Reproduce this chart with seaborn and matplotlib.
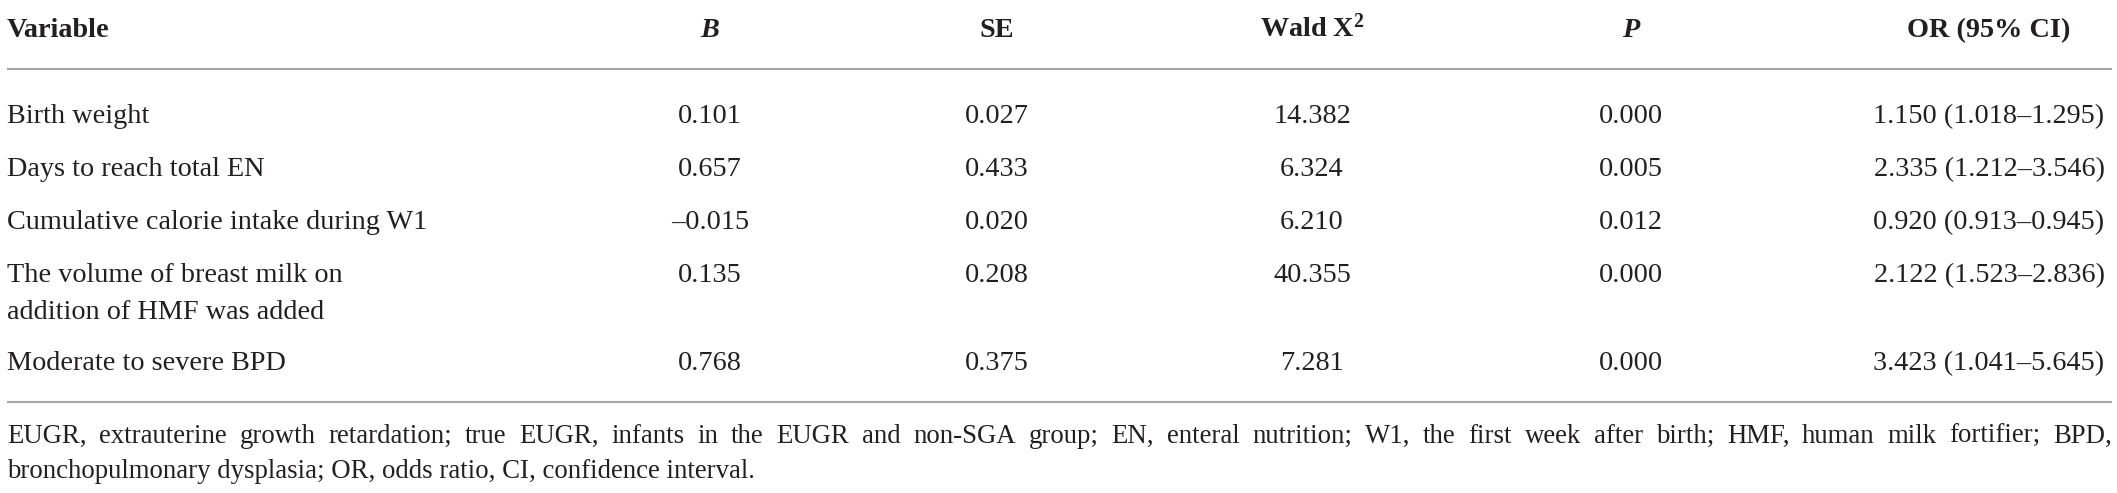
import matplotlib
matplotlib.use("Agg")
import matplotlib.pyplot as plt
import seaborn as sns

# Table content
headers = ["Variable", "B", "SE", "Wald X2", "P", "OR (95% CI)"]
variables = [
    "Birth weight",
    "Days to reach total EN",
    "Cumulative calorie intake during W1",
    "The volume of breast milk on\naddition of HMF was added",
    "Moderate to severe BPD",
]
b_vals = ["0.101", "0.657", "\u20130.015", "0.135", "0.768"]
se_vals = ["0.027", "0.433", "0.020", "0.208", "0.375"]
wald_vals = ["14.382", "6.324", "6.210", "40.355", "7.281"]
p_vals = ["0.000", "0.005", "0.012", "0.000", "0.000"]
or_vals = [
    "1.150 (1.018\u20131.295)",
    "2.335 (1.212\u20133.546)",
    "0.920 (0.913\u20130.945)",
    "2.122 (1.523\u20132.836)",
    "3.423 (1.041\u20135.645)",
]
footnote_1 = ("EUGR, extrauterine growth retardation; true EUGR, infants in the EUGR and "
              "non-SGA group; EN, enteral nutrition; W1, the first week after birth; HMF, "
              "human milk fortifier; BPD,")
footnote_2 = "bronchopulmonary dysplasia; OR, odds ratio, CI, confidence interval."

sns.set_theme(style="white")
plt.rcParams["font.family"] = ["Liberation Serif", "DejaVu Serif"]
plt.rcParams["mathtext.fontset"] = "custom"
plt.rcParams["mathtext.rm"] = "Liberation Serif"
plt.rcParams["mathtext.bf"] = "Liberation Serif:bold"
plt.rcParams["mathtext.it"] = "Liberation Serif:italic"

W, H = 2117, 493
fig = plt.figure(figsize=(W / 100, H / 100), dpi=100)
ax = fig.add_axes([0, 0, 1, 1])
ax.set_xlim(0, W)
ax.set_ylim(H, 0)
ax.axis("off")

txt = "#231f20"
rule = "#a3a3a3"
fs = 20.3
fs_note = 19.3

left = 7
right = 2112
col_x = [710, 997, 1312, 1631, 1989]

# header
head_y = 37
ax.text(left, head_y, headers[0], fontsize=fs, fontweight="bold", color=txt, va="baseline")
ax.text(col_x[0], head_y, headers[1], fontsize=fs, fontweight="bold", fontstyle="italic",
        color=txt, va="baseline", ha="center")
ax.text(col_x[1], head_y, headers[2], fontsize=fs, fontweight="bold", color=txt,
        va="baseline", ha="center")
ax.text(col_x[2], head_y, r"$\mathbf{Wald\ X^{2}}$", fontsize=fs, color=txt,
        va="baseline", ha="center")
ax.text(col_x[3], head_y, headers[4], fontsize=fs, fontweight="bold", fontstyle="italic",
        color=txt, va="baseline", ha="center")
ax.text(col_x[4], head_y, headers[5], fontsize=fs, fontweight="bold", color=txt,
        va="baseline", ha="center")

ax.plot([left, right], [69, 69], color=rule, lw=1.5, solid_capstyle="butt")

# body rows
row_y = [123, 176, 229, 282, 370]
line_gap = 37
for i, name in enumerate(variables):
    y = row_y[i]
    for k, part in enumerate(name.split("\n")):
        ax.text(left, y + k * line_gap, part, fontsize=fs, color=txt, va="baseline")
    cells = [b_vals[i], se_vals[i], wald_vals[i], p_vals[i], or_vals[i]]
    for x, val in zip(col_x, cells):
        ax.text(x, y, val, fontsize=fs, color=txt, va="baseline", ha="center")

ax.plot([left, right], [402, 402], color=rule, lw=1.5, solid_capstyle="butt")

# footnote, first line justified to the full width
renderer = fig.canvas.get_renderer()
words = footnote_1.split(" ")
pieces = [ax.text(left, 443, w, fontsize=fs_note, color=txt, va="baseline") for w in words]
widths = [p.get_window_extent(renderer).width for p in pieces]
gap = (right - left - sum(widths)) / (len(words) - 1)
x = left
for p, w in zip(pieces, widths):
    p.set_x(x)
    x += w + gap

ax.text(left, 478, footnote_2, fontsize=fs_note, color=txt, va="baseline")

fig.savefig("out.png", dpi=100, facecolor="white")
